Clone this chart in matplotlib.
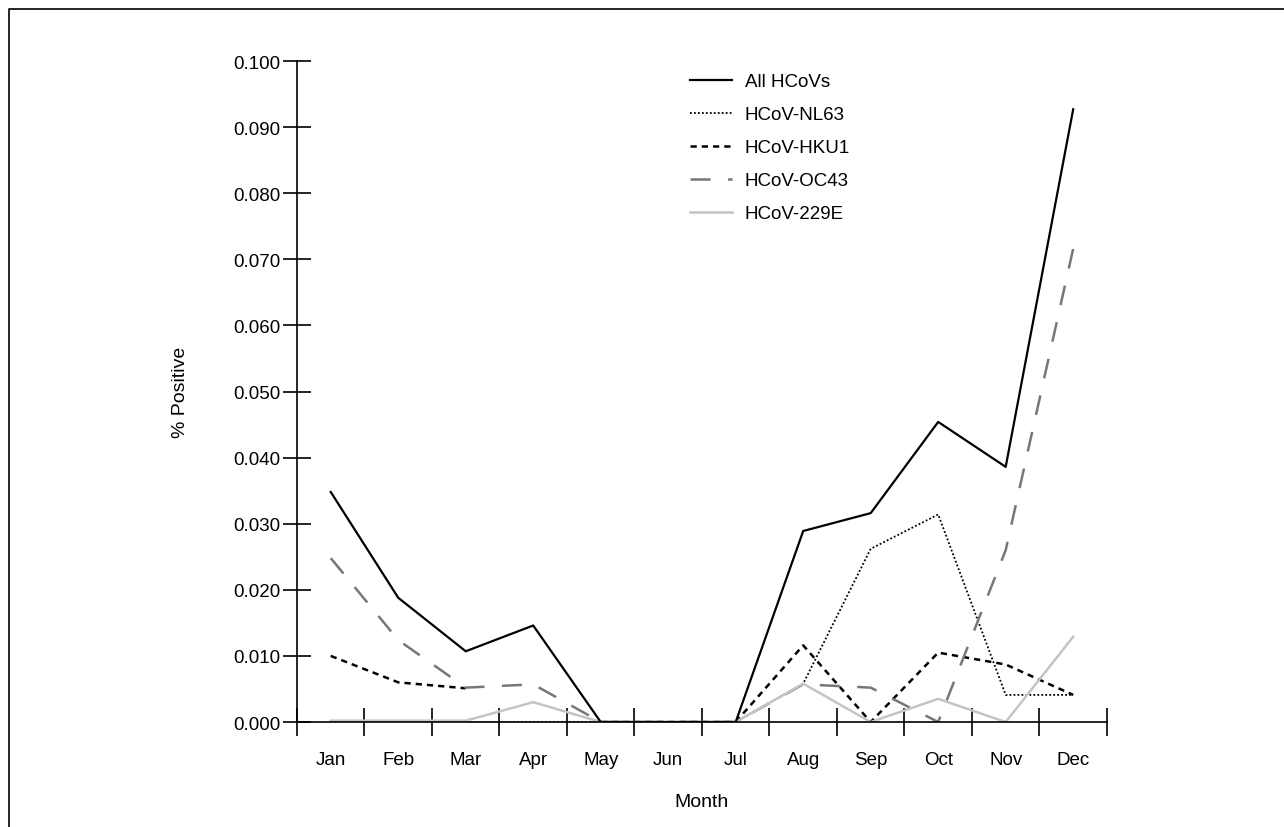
import numpy as np
import matplotlib
matplotlib.use('Agg')
import matplotlib.pyplot as plt
from matplotlib.lines import Line2D

plt.rcParams['font.family'] = ['Liberation Sans', 'DejaVu Sans']

months = ['Jan', 'Feb', 'Mar', 'Apr', 'May', 'Jun', 'Jul', 'Aug', 'Sep', 'Oct', 'Nov', 'Dec']
all_hcov = [0.0348, 0.0188, 0.0107, 0.0146, 0.0, 0.0, 0.0, 0.0289, 0.0316, 0.0454, 0.0386, 0.0927]
nl63 = [0.0, 0.0, 0.0, 0.0, 0.0, 0.0, 0.0, 0.0058, 0.0262, 0.0314, 0.0041, 0.0041]
hku1 = [0.0100, 0.0060, 0.0051, np.nan, 0.0, 0.0, 0.0, 0.0116, 0.0, 0.0105, 0.0087, 0.0041]
oc43 = [0.0248, 0.0124, 0.0052, 0.0057, 0.0, 0.0, 0.0, 0.0057, 0.0052, 0.0, 0.0260, 0.0716]
e229 = [0.0002, 0.0002, 0.0002, 0.0030, 0.0, 0.0, 0.0, 0.0058, 0.0, 0.0035, 0.0, 0.0129]

x = np.arange(1, len(months) + 1)
fs = 13.5

fig = plt.figure(figsize=(12.84, 8.28), dpi=100)
ax = fig.add_axes([0.2313, 0.1268, 0.8621 - 0.2313, 0.9251 - 0.1268])

ax.plot(x, nl63, color='black', lw=1.3, linestyle=(0, (1, 1.2)), label='HCoV-NL63')
ax.plot(x, hku1, color='black', lw=1.8, linestyle=(0, (2.5, 2)), label='HCoV-HKU1')
ax.plot(x, oc43, color='#777777', lw=1.8, linestyle=(0, (8, 7)), label='HCoV-OC43')
ax.plot(x, e229, color='#c4c4c4', lw=1.8, label='HCoV-229E')
ax.plot(x, all_hcov, color='black', lw=1.6, label='All HCoVs')

ax.set_xlim(0.5, 12.5)
ax.set_ylim(0, 0.1)
ax.set_yticks(np.arange(0, 0.1001, 0.01))
ax.set_yticklabels(['%.3f' % v for v in np.arange(0, 0.1001, 0.01)])
ax.set_xticks(np.arange(0.5, 13, 1))
ax.set_xticklabels([])
ax.set_xticks(x, minor=True)
ax.set_xticklabels(months, minor=True)
ax.tick_params(axis='x', which='minor', length=0, pad=21, labelsize=fs)
ax.tick_params(axis='x', which='major', direction='inout', length=20, width=1.2)
ax.tick_params(axis='y', direction='inout', length=20, width=1.2, labelsize=fs, pad=2)

for s in ['top', 'right']:
    ax.spines[s].set_visible(False)
for s in ['left', 'bottom']:
    ax.spines[s].set_linewidth(1.2)

ax.set_xlabel('Month', fontsize=fs + 0.5, labelpad=18)
ax.set_ylabel('% Positive', fontsize=fs + 0.5, labelpad=32)

handles = [
    Line2D([], [], color='black', lw=1.6),
    Line2D([], [], color='black', lw=1.3, linestyle=(0, (1, 1.2))),
    Line2D([], [], color='black', lw=1.8, linestyle=(0, (2.5, 2))),
    Line2D([], [], color='#777777', lw=1.8, linestyle=(0, (8, 7))),
    Line2D([], [], color='#c4c4c4', lw=1.8),
]
labels = ['All HCoVs', 'HCoV-NL63', 'HCoV-HKU1', 'HCoV-OC43', 'HCoV-229E']
ax.legend(handles, labels, loc='upper left', bbox_to_anchor=(690 / 1284, 1 - 74 / 828),
          bbox_transform=fig.transFigure, frameon=False, fontsize=fs,
          handlelength=2.25, handletextpad=0.68, labelspacing=0.85, borderaxespad=0, borderpad=0)

# outer frame (top and left edge)
fig.add_artist(Line2D([9 / 1284, 9 / 1284, 1.0], [0.0, 1 - 10 / 828, 1 - 10 / 828],
                      transform=fig.transFigure, color='black', lw=1.2))

fig.savefig('out.png', dpi=100)
